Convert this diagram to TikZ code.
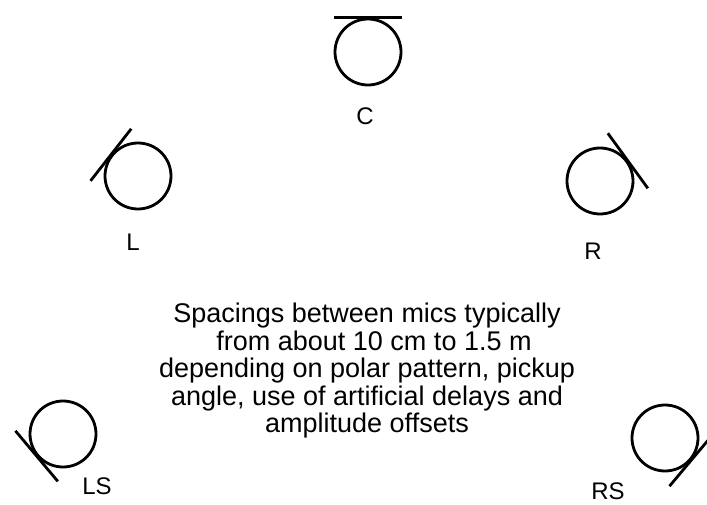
\documentclass[tikz,border=0pt]{standalone}
\usepackage{fontspec}
\setmainfont{Liberation Sans}
\begin{document}
\begin{tikzpicture}[x=1pt,y=1pt,
  mic/.style={circle, draw, line width=2.8pt, minimum size=66pt, inner sep=0pt},
  front/.style={line width=2.8pt},
  tag/.style={font=\fontsize{24}{24}\selectfont, inner sep=0pt},
  note/.style={font=\fontsize{27}{27.5}\selectfont, align=center, inner sep=0pt}]
\useasboundingbox (0,0) rectangle (707,-505);

% microphones (circle = capsule, bar = front face)
\node[mic] (C)  at (368,-52)  {};
\node[mic] (L)  at (138,-176) {};
\node[mic] (R)  at (600,-181) {};
\node[mic] (LS) at (63,-434)  {};
\node[mic] (RS) at (665,-438) {};

\draw[front] ([shift={(0:34)}]C.90)    -- ([shift={(180:34)}]C.90);
\draw[front] ([shift={(52:33)}]L.142)  -- ([shift={(232:33)}]L.142);
\draw[front] ([shift={(126:34)}]R.36)  -- ([shift={(-54:34)}]R.36);
\draw[front] ([shift={(130:33)}]LS.220) -- ([shift={(310:33)}]LS.220);
\draw[front] ([shift={(50:34)}]RS.320) -- ([shift={(230:34)}]RS.320);

% labels
\node[tag] (tC)  at (365,-116) {C};
\node[tag] (tL)  at (133,-242) {L};
\node[tag] (tR)  at (593,-251) {R};
\node[tag] (tLS) at (97,-486)  {LS};
\node[tag] (tRS) at (608,-491) {RS};

% explanatory note
\node[note, anchor=north] (note) at (367,-303) {Spacings between mics typically\\
\hspace*{14pt}from about 10 cm to 1.5 m\\
depending on polar pattern, pickup\\
angle, use of artificial delays and\\
amplitude offsets};
\end{tikzpicture}
\end{document}
